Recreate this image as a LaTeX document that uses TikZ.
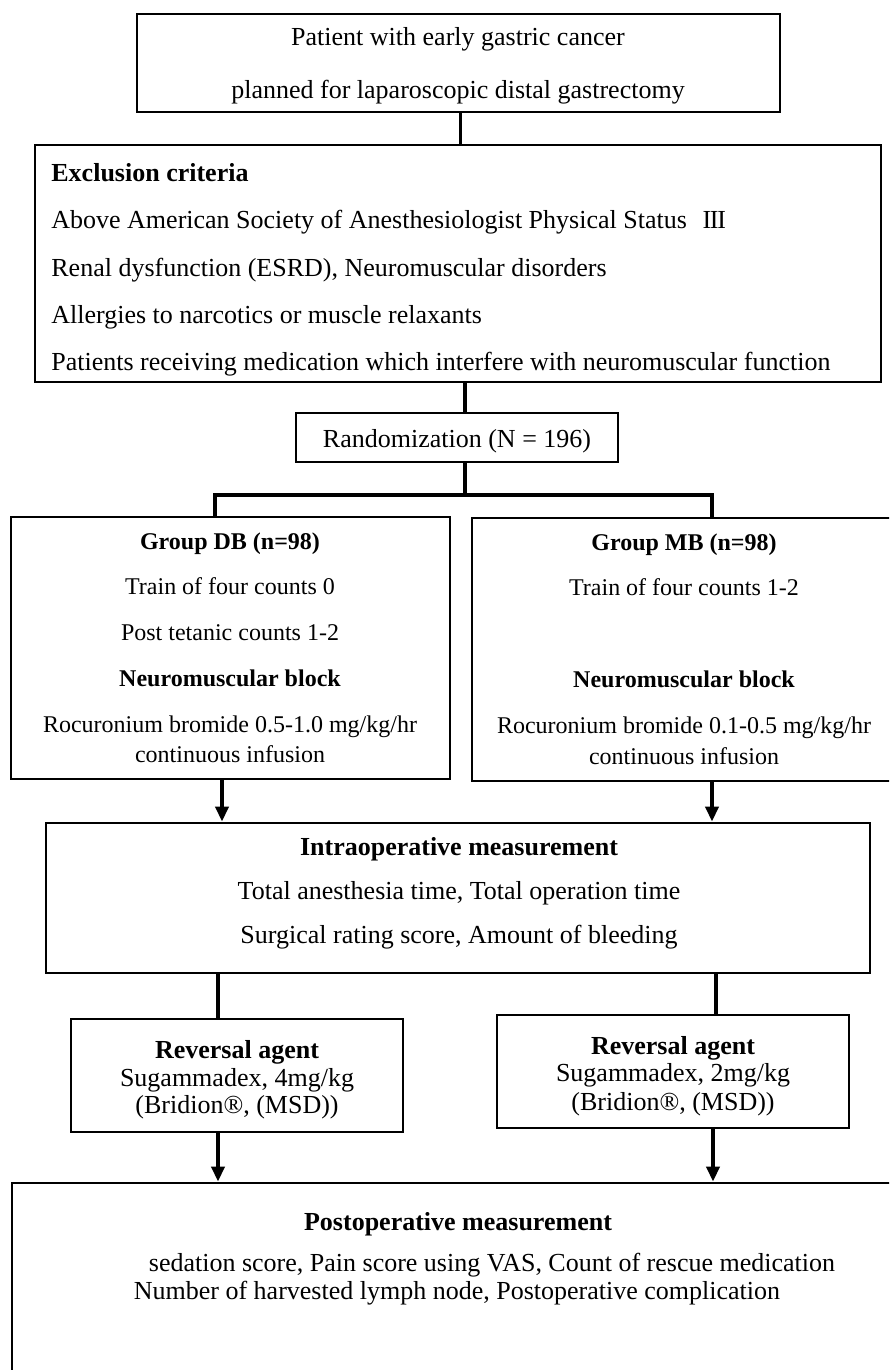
\documentclass[tikz,border=0pt]{standalone}
\usepackage{fontspec}
\setmainfont{Liberation Serif}
\usetikzlibrary{arrows.meta,fit,calc}
\begin{document}
\begin{tikzpicture}[x=0.5pt,y=-0.5pt,
  box/.style={draw,line width=1.4pt,inner sep=0pt},
  ln/.style={line width=1.8pt},
  arr/.style={line width=1.8pt,-{Triangle[width=6.5pt,length=7.5pt]}},
  txt/.style={font=\fontsize{13pt}{15pt}\selectfont,inner sep=0pt,anchor=base},
  lft/.style={txt,anchor=base west},
  hd/.style={txt,font=\fontsize{13pt}{15pt}\selectfont\bfseries},
  lhd/.style={hd,anchor=base west},
  gtxt/.style={txt,font=\fontsize{12pt}{14pt}\selectfont},
  ghd/.style={txt,font=\fontsize{12pt}{14pt}\selectfont\bfseries}]
\useasboundingbox (0,0) rectangle (889,1370);
\clip (0,0) rectangle (889,1370);
% boxes
\node[box,fit={(137,14) (780,112)}] (top) {};
\node[box,fit={(35,145) (881,382)}] (excl) {};
\node[box,fit={(296,413) (618,462)}] (rand) {};
\node[box,fit={(11,517) (450,779)}] (db) {};
\node[box,fit={(472,518) (900,781)}] (mb) {};
\node[box,fit={(46,823) (870,973)}] (intra) {};
\node[box,fit={(71,1019) (403,1132)}] (rev1) {};
\node[box,fit={(497,1015) (849,1128)}] (rev2) {};
\node[box,fit={(12,1183) (900,1400)}] (post) {};
% texts
\node[txt] (t1) at (458,46) {Patient with early gastric cancer};
\node[txt] (t2) at (458,98) {planned for laparoscopic distal gastrectomy};
\node[lhd] (e0) at (51,181) {Exclusion criteria};
\node[lft] (e1) at (51,228) {Above American Society of Anesthesiologist Physical Status\hspace{0.6em}I\kern-0.6ptI\kern-0.6ptI};
\node[lft] (e2) at (51,276) {Renal dysfunction (ESRD), Neuromuscular disorders};
\node[lft] (e3) at (51,323) {Allergies to narcotics or muscle relaxants};
\node[lft] (e4) at (51,370) {Patients receiving medication which interfere with neuromuscular function};
\node[txt] (r0) at (457,447) {Randomization (N = 196)};
\node[ghd] (d0) at (230,549) {Group DB (n=98)};
\node[gtxt] (d1) at (230,594) {Train of four counts 0};
\node[gtxt] (d2) at (230,640) {Post tetanic counts 1-2};
\node[ghd] (d3) at (230,686) {Neuromuscular block};
\node[gtxt] (d4) at (230,732) {Rocuronium bromide 0.5-1.0 mg/kg/hr};
\node[gtxt] (d5) at (230,762) {continuous infusion};
\node[ghd] (m0) at (684,550) {Group MB (n=98)};
\node[gtxt] (m1) at (684,595) {Train of four counts 1-2};
\node[ghd] (m3) at (684,687) {Neuromuscular block};
\node[gtxt] (m4) at (684,733) {Rocuronium bromide 0.1-0.5 mg/kg/hr};
\node[gtxt] (m5) at (684,764) {continuous infusion};
\node[hd] (i0) at (459,855) {Intraoperative measurement};
\node[txt] (i1) at (459,899) {Total anesthesia time, Total operation time};
\node[txt] (i2) at (459,943) {Surgical rating score, Amount of bleeding};
\node[hd] (a0) at (237,1058) {Reversal agent};
\node[txt] (a1) at (237,1086) {Sugammadex, 4mg/kg};
\node[txt] (a2) at (237,1113) {(Bridion®, (MSD))};
\node[hd] (b0) at (673,1054) {Reversal agent};
\node[txt] (b1) at (673,1081) {Sugammadex, 2mg/kg};
\node[txt] (b2) at (673,1110) {(Bridion®, (MSD))};
\node[hd] (p0) at (458,1230) {Postoperative measurement};
\node[txt] (p1) at (492,1271) {sedation score, Pain score using VAS, Count of rescue medication};
\node[txt] (p2) at (457,1299) {Number of harvested lymph node, Postoperative complication};
% connectors
\draw[ln] ([xshift=1pt]top.south) -- ([xshift=1pt]top.south |- excl.north);
\draw[ln] ([xshift=4pt]rand.north |- excl.south) -- ([xshift=4pt]rand.north);
\coordinate (bar) at (465,495);
\draw[ln] ([xshift=4pt]rand.south) -- (bar);
\draw[line width=2.2pt] ([xshift=-7.75pt]db.north) |- (bar) -| ([xshift=13pt]mb.north);
\draw[arr] ([xshift=-4.25pt]db.south) -- ([xshift=-4.25pt]db.south |- intra.north);
\draw[arr] ([xshift=13pt]mb.south) -- ([xshift=13pt]mb.south |- intra.north);
\draw[ln] ([xshift=-9.5pt]rev1.north |- intra.south) -- ([xshift=-9.5pt]rev1.north);
\draw[ln] ([xshift=21.5pt]rev2.north |- intra.south) -- ([xshift=21.5pt]rev2.north);
\draw[arr] ([xshift=-9.5pt]rev1.south) -- ([xshift=-9.5pt]rev1.south |- post.north);
\draw[arr] ([xshift=20pt]rev2.south) -- ([xshift=20pt]rev2.south |- post.north);
\end{tikzpicture}
\end{document}
